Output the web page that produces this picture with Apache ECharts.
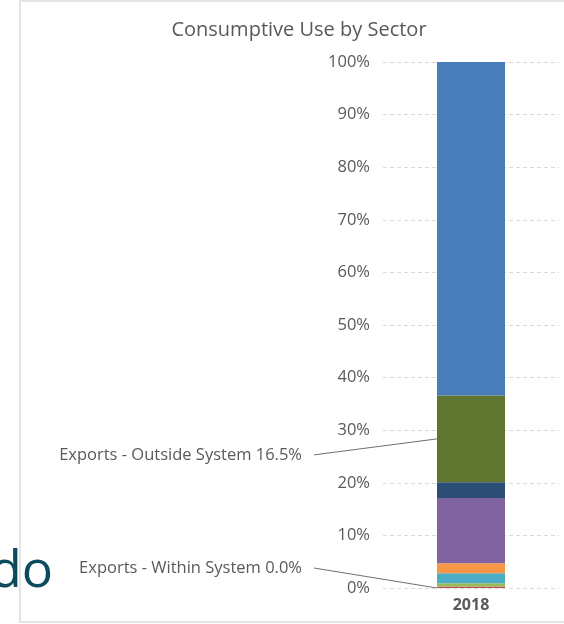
<!DOCTYPE html>
<html>
<head>
<meta charset="utf-8">
<title>Consumptive Use by Sector</title>
<script src="https://cdn.jsdelivr.net/npm/echarts@6/dist/echarts.min.js"></script>
<style>
	html, body { margin: 0; padding: 0; background: #fff; }
	#chart { width: 564px; height: 624px; }
</style>
</head>
<body>
<div id="chart"></div>
<script>
// data, bottom of the stack first
var categories = ['2018']
var sectorNames = [
	'Exports - Within System',
	'Mining',
	'Thermoelectric',
	'Municipal',
	'Industrial',
	'Reservoir Evaporation',
	'Stock & Wildlife',
	'Exports - Outside System',
	'Agriculture'
]
var sectorValues = [0.0, 0.3, 0.6, 1.9, 1.9, 12.4, 3.0, 16.5, 63.4]
var yTicks = ['0%', '10%', '20%', '30%', '40%', '50%', '60%', '70%', '80%', '90%', '100%']

var sectorColors = ['#c0504d', '#c0504d', '#9bbb59', '#4bacc6', '#f79646', '#8064a2', '#2c4d75', '#5f7530', '#4a7ebb']
// which sectors get a callout and how far it sits above/below the segment
var callouts = { 'Exports - Within System': -20, 'Exports - Outside System': 16 }

var font = '"Open Sans", "Noto Sans", sans-serif'
var barWidth = 68
var labelGap = 135 // label right edge -> bar left edge
var chart = echarts.init(document.getElementById('chart'))

var series = sectorNames.map(function (name, i) {
	var s = {
		name: name,
		type: 'bar',
		stack: 'total',
		barWidth: barWidth,
		data: [sectorValues[i]],
		itemStyle: { color: sectorColors[i] },
		emphasis: { disabled: true }
	}
	if (callouts[name] !== undefined) {
		var dy = callouts[name]
		s.label = {
			show: true,
			position: 'left',
			fontFamily: font,
			fontSize: 16.5,
			color: '#595959',
			formatter: function (p) {
				return p.seriesName + ' ' + p.value.toFixed(1) + '%'
			}
		}
		s.labelLayout = function (p) {
			return {
				x: p.rect.x - labelGap,
				y: p.rect.y + p.rect.height / 2 + dy,
				align: 'right',
				verticalAlign: 'middle'
			}
		}
	}
	return s
})

chart.setOption({
	animation: false,
	title: {
		text: 'Consumptive Use by Sector',
		left: 299,
		top: 20,
		padding: 0,
		textAlign: 'center',
		textStyle: {
			fontFamily: font,
			fontSize: 20,
			fontWeight: 'normal',
			color: '#595959'
		}
	},
	grid: {
		left: 383,
		right: 5,
		top: 62,
		bottom: 36
	},
	xAxis: {
		type: 'category',
		data: categories,
		axisLine: { show: false },
		axisTick: { show: false },
		axisLabel: {
			margin: 9,
			fontFamily: font,
			fontSize: 16,
			fontWeight: 'bold',
			color: '#595959'
		}
	},
	yAxis: {
		type: 'value',
		min: 0,
		max: 100,
		interval: 10,
		axisLine: { show: false },
		axisTick: { show: false },
		axisLabel: {
			margin: 13,
			fontFamily: font,
			fontSize: 16.5,
			color: '#595959',
			formatter: function (v) {
				return yTicks[Math.round(v / 10)]
			}
		},
		splitLine: {
			lineStyle: { color: '#d9d9d9', type: [4, 3], width: 1 }
		}
	},
	graphic: [
		{
			id: 'frame',
			type: 'rect',
			z: -1,
			shape: { x: 20, y: 1, width: 560, height: 621 },
			style: { fill: 'none', stroke: '#dcdcdc', lineWidth: 1.5 }
		},
		{
			id: 'slideTitle',
			type: 'text',
			x: 53,
			y: 572,
			style: {
				text: 'do',
				font: '52px ' + font,
				fill: '#0c4a5d',
				align: 'right',
				verticalAlign: 'middle'
			}
		}
	],
	series: series
})

// leader lines: from just right of each callout label to the middle of its segment's left edge
var leaders = []
var base = 0
sectorNames.forEach(function (name, i) {
	var top = base + sectorValues[i]
	if (callouts[name] !== undefined) {
		var mid = chart.convertToPixel({ gridIndex: 0 }, [categories[0], (base + top) / 2])
		var barLeft = mid[0] - barWidth / 2
		var labelY = mid[1] + callouts[name]
		leaders.push({
			id: 'leader' + i,
			type: 'polyline',
			shape: { points: [[barLeft - labelGap + 12, labelY], [barLeft, mid[1]]] },
			style: { stroke: '#6f6f6f', lineWidth: 1, fill: null }
		})
	}
	base = top
})
chart.setOption({ graphic: leaders })
</script>
</body>
</html>
